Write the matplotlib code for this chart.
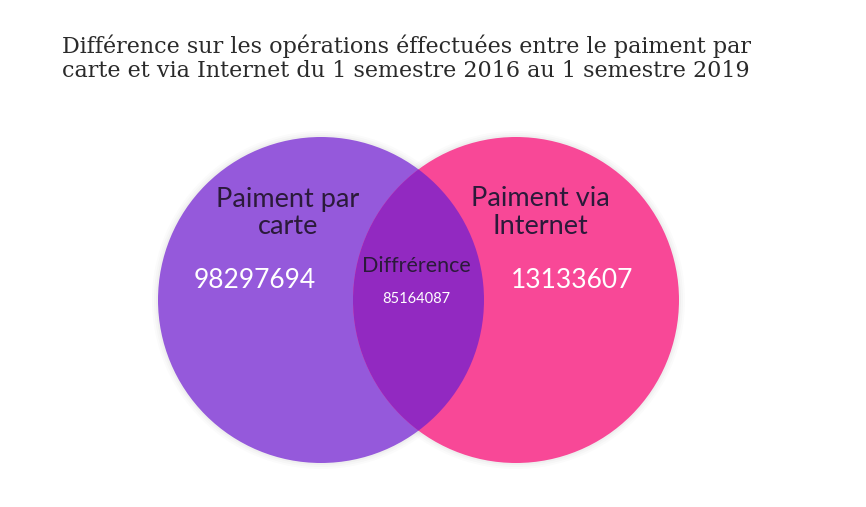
import matplotlib
matplotlib.use("Agg")
import matplotlib.pyplot as plt
from matplotlib.patches import Circle

## data
title = "Différence sur les opérations éffectuées entre le paiment par\ncarte et via Internet du 1 semestre 2016 au 1 semestre 2019"
set_labels = ["Paiment par\ncarte", "Paiment via\nInternet"]
set_values = [98297694, 13133607]
inter_label = "Diffrérence"
inter_value = 85164087

purple = "#9559db"
pink = "#f84897"
overlap = "#9229c1"

fig = plt.figure(figsize=(8.66, 5.07), dpi=100)
ax = fig.add_axes([0, 0, 1, 1])
ax.set_xlim(0, 866)
ax.set_ylim(507, 0)
ax.set_aspect("equal")
ax.axis("off")

## circles (pixel layout)
c1 = (321, 300)
c2 = (516, 300)
r = 163

# soft shadow
for k, a in [(6, 0.03), (4, 0.04), (2, 0.05)]:
    for c in (c1, c2):
        ax.add_patch(Circle(c, r + k, color="grey", alpha=a, lw=0))

ax.add_patch(Circle(c1, r, color=purple, lw=0))
ax.add_patch(Circle(c2, r, color=pink, lw=0))
lens = ax.add_patch(Circle(c1, r, color=overlap, lw=0))
lens.set_clip_path(Circle(c2, r, transform=ax.transData))

## texts
ax.text(406, 58, title, ha="center", va="center", fontsize=16,
        family="DejaVu Serif", color="#2a2a2a", linespacing=1.1)

ax.text(288, 213, set_labels[0], ha="center", va="center", fontsize=19.5,
        family="Lato", color="#2b1a3a", linespacing=1.15)
ax.text(540, 213, set_labels[1], ha="center", va="center", fontsize=19.5,
        family="Lato", color="#2b1a3a", linespacing=1.15)

ax.text(255, 281, str(set_values[0]), ha="center", va="center", fontsize=19,
        family="Lato", color="white")
ax.text(572, 281, str(set_values[1]), ha="center", va="center", fontsize=19,
        family="Lato", color="white")

ax.text(416, 266, inter_label, ha="center", va="center", fontsize=15.5,
        family="Lato", color="#2b1a3a")
ax.text(416, 299, str(inter_value), ha="center", va="center", fontsize=10.5,
        family="Lato", color="white")

fig.savefig("out.png", dpi=100, facecolor="white")
